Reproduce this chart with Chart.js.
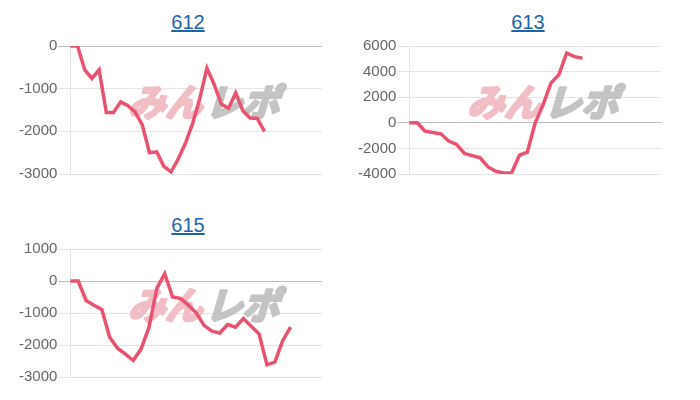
<!DOCTYPE html>
<html>
<head>
<meta charset="utf-8">
<script src="https://cdn.jsdelivr.net/npm/chart.js@4.4.0/dist/chart.umd.min.js"></script>
<style>
  body { margin: 0; background: #fff; font-family: "Liberation Sans", Arial, sans-serif; }
  .title { position: absolute; width: 120px; text-align: center; font-size: 20px; line-height: 22px; }
  .title a { color: #1f63ad; text-decoration: underline; }
  canvas { position: absolute; }
</style>
</head>
<body>
<div class="title" style="left:128px; top:11px;"><a href="#">612</a></div>
<div class="title" style="left:468px; top:11px;"><a href="#">613</a></div>
<div class="title" style="left:128px; top:214px;"><a href="#">615</a></div>
<canvas id="c612" width="306" height="148" style="left:18px; top:36px;"></canvas>
<canvas id="c613" width="306" height="148" style="left:357px; top:36px;"></canvas>
<canvas id="c615" width="306" height="148" style="left:18px; top:239px;"></canvas>
<script>
// x軸ラベル（非表示）
const labels612 = ['1','2','3','4','5','6','7','8','9','10','11','12','13','14','15','16','17','18','19','20','21','22','23','24','25','26','27','28','29','30','31','32','33','34','35','36'];
const labels613 = ['1','2','3','4','5','6','7','8','9','10','11','12','13','14','15','16','17','18','19','20','21','22','23','24','25','26','27','28','29','30','31','32','33'];
const labels615 = ['1','2','3','4','5','6','7','8','9','10','11','12','13','14','15','16','17','18','19','20','21','22','23','24','25','26','27','28','29','30','31','32','33'];

// 差枚推移
const values612 = [0, 0, -560, -760, -560, -1560, -1560, -1310, -1400, -1545, -1850, -2500, -2480, -2820, -2950, -2650, -2280, -1820, -1230, -520, -900, -1360, -1460, -1100, -1520, -1690, -1700, -2000];
const values613 = [0, 0, -650, -760, -860, -1430, -1690, -2400, -2560, -2740, -3450, -3790, -3920, -3920, -2530, -2300, 0, 1400, 3100, 3750, 5450, 5170, 5050];
const values615 = [0, 0, -610, -755, -890, -1760, -2100, -2285, -2485, -2120, -1450, -230, 230, -500, -545, -755, -995, -1385, -1570, -1625, -1360, -1445, -1175, -1415, -1655, -2620, -2535, -1865, -1445];

// y軸の範囲
const yRange612 = [-3000, 0, 1000];
const yRange613 = [-4000, 6000, 2000];
const yRange615 = [-3000, 1000, 1000];

// 背景のロゴ
const watermark = {
  id: 'watermark',
  beforeDatasetsDraw(chart) {
    const { ctx, chartArea } = chart;
    const cx = (chartArea.left + chartArea.right) / 2 + 10;
    const cy = (chartArea.top + chartArea.bottom) / 2 - 8;
    ctx.save();
    ctx.translate(cx, cy);
    ctx.transform(1, 0, -0.3, 1, 0, 0);
    ctx.font = 'bold 37px "Noto Sans CJK JP"';
    ctx.textBaseline = 'middle';
    ctx.lineWidth = 3;
    ctx.lineJoin = 'round';
    ctx.textAlign = 'right';
    ctx.fillStyle = ctx.strokeStyle = 'rgb(240, 190, 196)';
    ctx.strokeText('みん', 0, 0);
    ctx.fillText('みん', 0, 0);
    ctx.textAlign = 'left';
    ctx.fillStyle = ctx.strokeStyle = 'rgb(196, 196, 196)';
    ctx.strokeText('レポ', 3, 0);
    ctx.fillText('レポ', 3, 0);
    ctx.restore();
  }
};

function drawChart(id, labels, values, range) {
  const ctx = document.getElementById(id).getContext('2d');
  new Chart(ctx, {
    type: 'line',
    data: {
      labels: labels,
      datasets: [{
        data: values,
        borderColor: '#e9536f',
        borderWidth: 3.5,
        pointRadius: 0,
        fill: false,
        tension: 0
      }]
    },
    options: {
      responsive: false,
      animation: false,
      layout: { padding: { left: 0, right: 2, top: 0, bottom: 0 } },
      plugins: { legend: { display: false }, tooltip: { enabled: false } },
      scales: {
        x: {
          ticks: { display: false },
          grid: { display: false },
          border: { display: false }
        },
        y: {
          min: range[0],
          max: range[1],
          ticks: {
            stepSize: range[2],
            color: '#666',
            padding: 1,
            font: { size: 15, family: '"Liberation Sans", Arial' },
            callback: v => String(v)
          },
          grid: {
            color: c => c.tick && c.tick.value === 0 ? 'rgba(0,0,0,0.25)' : 'rgba(0,0,0,0.1)',
            tickLength: 12
          },
          border: { display: true, color: 'rgba(0,0,0,0.1)' }
        }
      }
    },
    plugins: [watermark]
  });
}

drawChart('c612', labels612, values612, yRange612);
drawChart('c613', labels613, values613, yRange613);
drawChart('c615', labels615, values615, yRange615);
</script>
</body>
</html>
